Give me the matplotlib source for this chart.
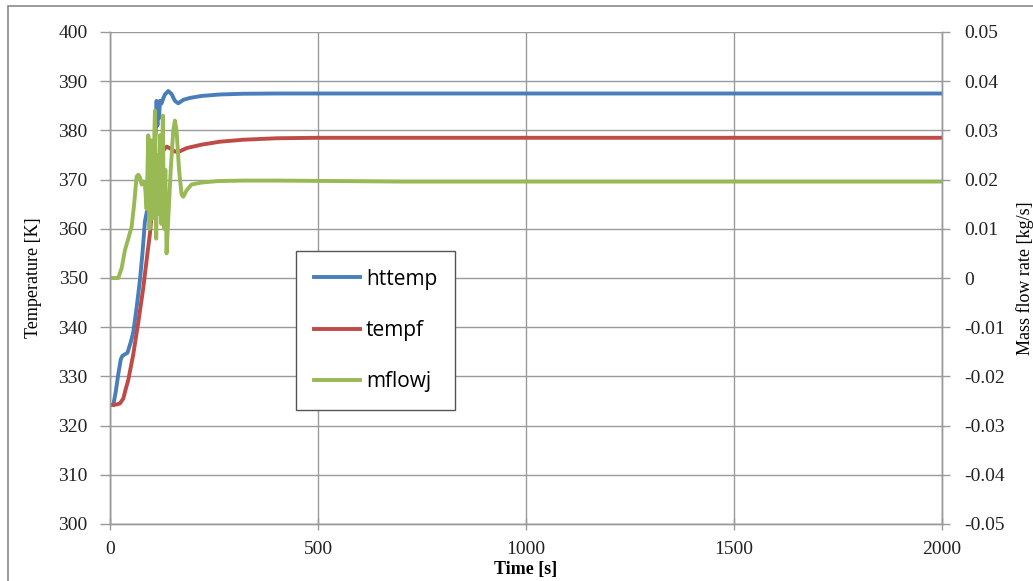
import matplotlib
matplotlib.use("Agg")
import matplotlib.pyplot as plt
from matplotlib.patches import Rectangle
from matplotlib.ticker import FuncFormatter, MultipleLocator

# ---- data ----
t_httemp = [8, 14, 20, 26, 30, 42, 50, 56, 64, 72, 78, 84, 92, 100, 106, 110, 112, 114,
            116, 118, 120, 124, 128, 132, 140, 148, 156, 164, 176, 192, 220, 264, 320, 400, 2000]
httemp = [324.2, 327.0, 330.5, 333.5, 334.2, 334.8, 337.0, 339.0, 344.0, 349.6, 355.0, 361.5,
          365.0, 368.6, 374.0, 380.0, 386.0, 381.0, 385.5, 382.5, 386.0, 385.5, 386.5, 387.3,
          388.0, 387.4, 386.0, 385.5, 386.2, 386.6, 387.0, 387.3, 387.45, 387.5, 387.5]

t_tempf = [4, 16, 24, 32, 38, 44, 56, 68, 80, 90, 96, 104, 110, 116, 124, 136, 148, 156,
           164, 184, 220, 264, 320, 400, 500, 2000]
tempf = [324.2, 324.3, 324.5, 325.5, 327.5, 329.3, 334.5, 341.0, 348.0, 355.0, 359.0, 366.5,
         371.0, 374.6, 375.5, 376.7, 376.2, 375.7, 375.6, 376.4, 377.1, 377.7, 378.1, 378.4,
         378.5, 378.5]

t_mflowj = [0, 20, 28, 36, 44, 52, 58, 64, 68, 72, 76, 80, 84, 88, 92, 95, 98, 101, 104,
            108, 111, 114, 117, 120, 123, 127, 130, 133, 136, 140, 146, 152, 156, 160, 166,
            172, 176, 184, 196, 220, 260, 320, 400, 550, 700, 2000]
mflowj = [0.0, 0.0, 0.002, 0.0057, 0.008, 0.0104, 0.015, 0.0206, 0.021, 0.0205, 0.019,
          0.0196, 0.019, 0.014, 0.029, 0.010, 0.028, 0.012, 0.020, 0.034, 0.008, 0.025,
          0.013, 0.029, 0.011, 0.033, 0.010, 0.022, 0.005, 0.012, 0.022, 0.030, 0.032,
          0.030, 0.022, 0.017, 0.0165, 0.0178, 0.019, 0.0194, 0.0197, 0.0198, 0.0198,
          0.0197, 0.0196, 0.0196]

x_ticks = [0, 500, 1000, 1500, 2000]
y_ticks = list(range(300, 401, 10))

# ---- styling ----
blue, red, green = "#4a7ebb", "#be4b48", "#98b954"
gray = "#9a9a9a"
serif = "Liberation Serif"
LW = 2.8

fig = plt.figure(figsize=(10.33, 5.81), dpi=100)
ax = fig.add_axes([110 / 1033, 1 - 524 / 581, 832 / 1033, 492 / 581])
ax2 = ax.twinx()

l1, = ax.plot(t_httemp, httemp, color=blue, lw=LW, label="httemp", solid_joinstyle="round")
l2, = ax.plot(t_tempf, tempf, color=red, lw=LW, label="tempf", solid_joinstyle="round")
l3, = ax2.plot(t_mflowj, mflowj, color=green, lw=LW, label="mflowj", solid_joinstyle="round")

ax.set_xlim(0, 2000)
ax.set_ylim(300, 400)
ax2.set_ylim(-0.05, 0.05)
ax.set_xticks(x_ticks)
ax.set_yticks(y_ticks)
ax2.yaxis.set_major_locator(MultipleLocator(0.01))


def fmt2(v, pos):
    v = round(v, 2)
    if abs(v) < 1e-9:
        return "0"
    return "%.2f" % v


ax2.yaxis.set_major_formatter(FuncFormatter(fmt2))

ax.grid(True, color=gray, lw=1.0)
ax.set_axisbelow(True)
for a in (ax, ax2):
    a.spines["top"].set_visible(False)
    for s in ("left", "right", "bottom"):
        a.spines[s].set_color(gray)
        a.spines[s].set_linewidth(1.0)
    a.set_facecolor("none")

ax.tick_params(axis="y", direction="out", length=7, width=1, color=gray, pad=9,
               labelsize=14, labelcolor="#222222")
ax.tick_params(axis="x", direction="inout", length=9, width=1, color=gray, pad=8,
               labelsize=14, labelcolor="#222222")
ax2.tick_params(axis="y", direction="out", length=6, width=1, color=gray, pad=10,
                labelsize=14, labelcolor="#222222")
for lab in ax.get_xticklabels() + ax.get_yticklabels() + ax2.get_yticklabels():
    lab.set_fontfamily(serif)

ax.set_xlabel("Time [s]", fontfamily=serif, fontsize=13, fontweight="bold", labelpad=2)
ax.set_ylabel("Temperature [K]", fontfamily=serif, fontsize=13, labelpad=12)
ax2.set_ylabel("Mass flow rate [kg/s]", fontfamily=serif, fontsize=13, labelpad=8)

leg = ax2.legend(handles=[l1, l2, l3], loc="upper left",
                 bbox_to_anchor=(0.2236, 0.555), frameon=True, fancybox=False,
                 edgecolor="#555555", framealpha=1, prop={"family": "Open Sans", "size": 15},
                 handlelength=2.2, handletextpad=0.3, labelspacing=1.45,
                 borderpad=0.85, borderaxespad=0)
leg.get_frame().set_linewidth(1.0)

fig.patches.append(Rectangle((8 / 1033, -0.1), 2, 1 - 6 / 581 + 0.1, transform=fig.transFigure,
                             fill=False, edgecolor="#8a8a8a", lw=1.2))

fig.savefig("out.png", dpi=100)
